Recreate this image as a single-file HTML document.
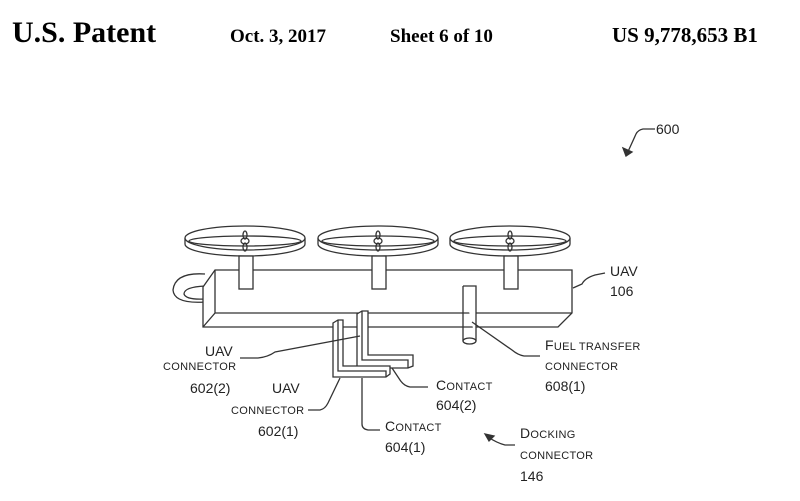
<!DOCTYPE html>
<html><head><meta charset="utf-8"><style>
html,body{margin:0;padding:0;background:#fff;}
svg{display:block;}
.h{font-family:"Liberation Serif",serif;font-weight:bold;}
.l{font-family:"Liberation Sans",sans-serif;font-size:14px;fill:#222;}
.s{font-family:"Liberation Sans",sans-serif;font-size:11px;fill:#222;letter-spacing:0.3px;}
</style></head><body>
<svg width="800" height="501" viewBox="0 0 800 501" xmlns="http://www.w3.org/2000/svg">
<text x="12" y="42" class="h" font-size="30">U.S. Patent</text>
<text x="230" y="42" class="h" font-size="19">Oct. 3, 2017</text>
<text x="390" y="42" class="h" font-size="19">Sheet 6 of 10</text>
<text x="612" y="42" class="h" font-size="21">US 9,778,653 B1</text>

<g fill="none" stroke="#333" stroke-width="1.3">
<path d="M655,129 L643,129 Q638,130 636,134 L626,156"/>
<!-- loop -->
<path d="M205,274 Q175,272 173,290 Q174,304 205,302"/>
<path d="M205,286 Q184,287 184,294 Q186,300 205,299"/>
<!-- body -->
<path d="M203,327 L203,287 L215,270 L572,270 L572,313 L558,327 Z" fill="#fff"/>
<path d="M215,270 L215,313 L203,327 M215,313 L572,313"/>
<g id="r">
<path d="M185,238 L185,244 A60,12 0 0 0 305,244 L305,238" fill="#fff"/>
<ellipse cx="245" cy="238" rx="60" ry="12" fill="#fff"/>
<ellipse cx="245" cy="241" rx="56" ry="5"/>
<ellipse cx="245" cy="241" rx="4" ry="3" fill="#fff"/>
<ellipse cx="245" cy="235" rx="2" ry="4"/>
<ellipse cx="245" cy="247" rx="2" ry="4"/>
<rect x="239" y="256" width="14" height="33" fill="#fff"/>
</g>
<use href="#r" x="133"/>
<use href="#r" x="265"/>
<path d="M463,286 L476,286 L476,341 M463,286 L463,341" fill="#fff"/>
<ellipse cx="469.5" cy="341" rx="6.5" ry="3" fill="#fff"/>
<path d="M357,314 L362,311 L368,311 L368,355 L413,355 L413,366 L408,368 L357,368 Z" fill="#fff"/>
<path d="M362,311 L362,360 L408,360 L408,368"/>
<path d="M333,323 L338,320 L343,320 L343,366 L390,366 L390,374 L386,377 L333,377 Z" fill="#fff"/>
<path d="M338,320 L338,371 L386,371 L386,377"/>
<path d="M240,358 L258,358 Q268,357 275,352 L360,336"/>
<path d="M308,410 L320,410 Q325,409 328,403 L340,378"/>
<path d="M428,387 L410,387 Q404,386 400,380 L392,368"/>
<path d="M380,430 L368,430 Q362,429 362,424 L362,378"/>
<path d="M540,356 L524,356 Q518,355 512,350 L472,322"/>
<path d="M605,273 L595,275 Q585,278 582,284 L573,288"/>
<path d="M515,445 L505,445 Q497,443 488,437"/>
<path d="M485,434 L494,436 L489,441 Z" fill="#333"/>
<path d="M626,156 L623,148 L632,152 Z" fill="#333"/>
</g>

<text x="656" y="134" class="l">600</text>
<text x="610" y="276" class="l">UAV</text>
<text x="610" y="296" class="l">106</text>
<text x="205" y="356" class="l">UAV</text>
<text x="163" y="370" class="s">CONNECTOR</text>
<text x="190" y="393" class="l">602(2)</text>
<text x="272" y="393" class="l">UAV</text>
<text x="231" y="414" class="s">CONNECTOR</text>
<text x="258" y="436" class="l">602(1)</text>
<text x="436" y="390" class="s"><tspan font-size="14">C</tspan>ONTACT</text>
<text x="436" y="410" class="l">604(2)</text>
<text x="385" y="431" class="s"><tspan font-size="14">C</tspan>ONTACT</text>
<text x="385" y="452" class="l">604(1)</text>
<text x="545" y="350" class="s"><tspan font-size="14">F</tspan>UEL TRANSFER</text>
<text x="545" y="370" class="s">CONNECTOR</text>
<text x="545" y="391" class="l">608(1)</text>
<text x="520" y="438" class="s"><tspan font-size="14">D</tspan>OCKING</text>
<text x="520" y="459" class="s">CONNECTOR</text>
<text x="520" y="481" class="l">146</text>
</svg>
</body></html>
